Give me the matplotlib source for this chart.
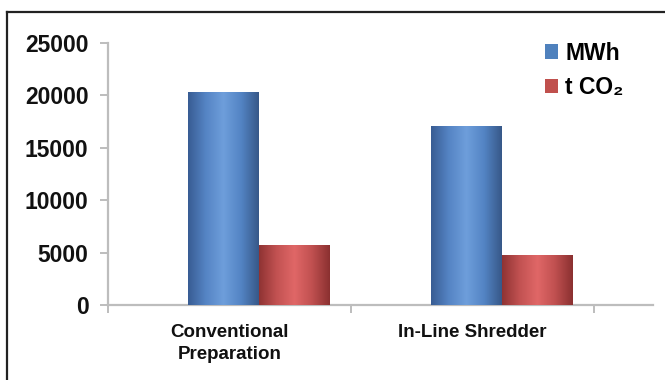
import numpy as np
import matplotlib.pyplot as plt
from matplotlib.colors import LinearSegmentedColormap
from matplotlib.lines import Line2D
from matplotlib.patches import Patch

categories = ["Conventional\nPreparation", "In-Line Shredder"]
mwh = [20300, 17100]
t_co2 = [5700, 4800]
series_names = ["MWh", "t CO\u2082"]
y_ticks = [0, 5000, 10000, 15000, 20000, 25000]

plt.rcParams["font.family"] = ["Liberation Sans", "DejaVu Sans"]
plt.rcParams["font.weight"] = "bold"

W, H = 665, 380
fig = plt.figure(figsize=(W / 100, H / 100), dpi=100)
fig.patch.set_facecolor("white")

# axes box in pixel terms: x 108..653, y 43..305
ax = fig.add_axes([108 / W, 1 - 305 / H, 545 / W, 262 / H])

blue_cmap = LinearSegmentedColormap.from_list(
    "blue_cyl", ["#385c93", "#5584c4", "#6e9edb", "#5384c4", "#375888"])
red_cmap = LinearSegmentedColormap.from_list(
    "red_cyl", ["#8f3333", "#c25252", "#e06767", "#c05050", "#8a3030"])

x = np.arange(len(categories))
width = 0.29
bars_mwh = ax.bar(x - 0.025, mwh, width, color="#4f81bd", zorder=2)
bars_co2 = ax.bar(x + 0.265, t_co2, width, color="#c0504d", zorder=2)

# horizontal shading to give the bars a cylinder look
grad = np.linspace(0, 1, 256).reshape(1, -1)
for bars, cmap in [(bars_mwh, blue_cmap), (bars_co2, red_cmap)]:
    for b in bars:
        x0, y0 = b.get_x(), b.get_y()
        im = ax.imshow(grad, cmap=cmap, aspect="auto", zorder=3,
                       extent=(x0, x0 + b.get_width(), y0, y0 + b.get_height()))
        im.set_clip_path(b)

ax.set_xlim(-0.5, 1.743)
ax.set_ylim(0, 25000)

axis_gray = "#bdbdbd"
for side in ["top", "right"]:
    ax.spines[side].set_visible(False)
for side in ["left", "bottom"]:
    ax.spines[side].set_color(axis_gray)
    ax.spines[side].set_linewidth(1.6)

ax.set_yticks(y_ticks)
ax.set_yticklabels([str(v) for v in y_ticks], fontsize=16.5, fontweight="bold",
                   color="#111111")
ax.tick_params(axis="y", length=6, width=1.4, color=axis_gray, pad=8)

ax.set_xticks(x)
ax.set_xticklabels(categories, fontsize=13.5, fontweight="bold",
                   color="#111111", linespacing=1.35)
ax.tick_params(axis="x", which="major", length=0, pad=14)
ax.set_xticks([-0.5, 0.5, 1.5], minor=True)
ax.tick_params(axis="x", which="minor", length=6, width=1.4, color=axis_gray)

handles = [Patch(facecolor="#4f81bd"), Patch(facecolor="#c0504d")]
fig.legend(handles, series_names, loc="upper left",
           bbox_to_anchor=(524 / W, 1 - 21 / H), frameon=False,
           prop={"size": 16.5, "weight": "bold"},
           handlelength=0.6, handleheight=0.6, handletextpad=0.3,
           labelspacing=0.5)

# frame lines along the top and left edge
fig.add_artist(Line2D([7 / W, 1], [1 - 12 / H] * 2, color="#222222", lw=1.6))
fig.add_artist(Line2D([7 / W] * 2, [0, 1 - 12 / H], color="#222222", lw=1.6))

fig.savefig("out.png", dpi=100)
